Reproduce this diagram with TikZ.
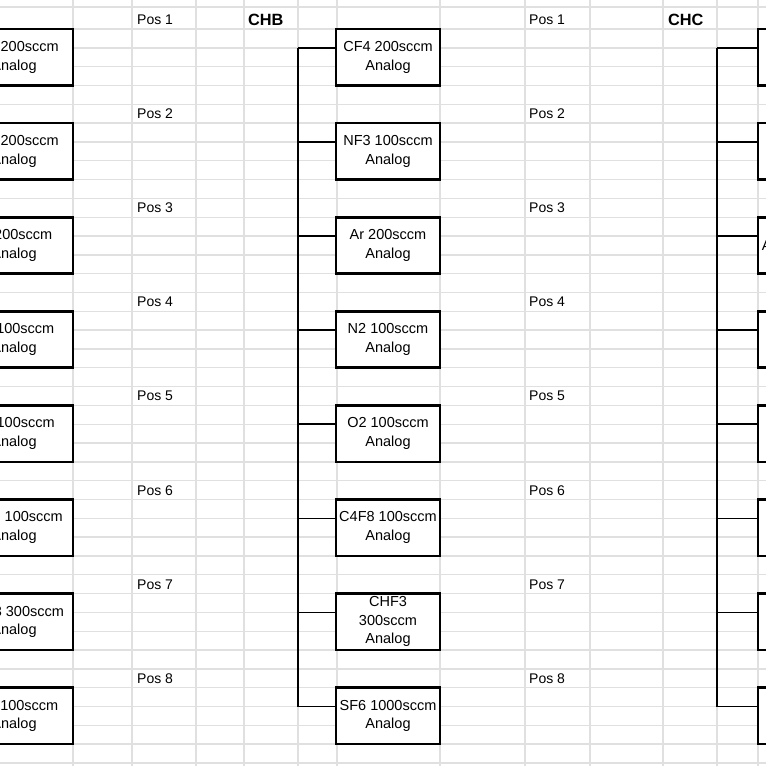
\documentclass[tikz,border=0pt]{standalone}
\usepackage{fontspec}
\setmainfont{Liberation Sans}
\begin{document}
\begin{tikzpicture}[x=1pt,y=-1pt,
  gridline/.style={draw=gray!24,line width=1.4pt},
  gasbox/.style={draw=black,line width=2.6pt,fill=white,minimum width=104pt,minimum height=56.46pt,
    inner sep=0pt,align=center,font=\fontsize{14.5}{18.6}\selectfont},
  widebox/.style={gasbox,minimum width=118pt},
  poslabel/.style={anchor=base west,inner sep=0pt,font=\fontsize{14}{16}\selectfont},
  chlabel/.style={anchor=base west,inner sep=0pt,font=\fontsize{16.3}{18}\selectfont\bfseries},
  conn/.style={draw=black,line width=1.5pt}]
\useasboundingbox (0,0) rectangle (766,766);
% grid
\draw[gridline] (0,7) -- (766,7);
\foreach \k in {0,...,39} \draw[gridline] (0,{29+18.82*\k}) -- (766,{29+18.82*\k});
\foreach \x in {73,132,196,244,298,337,440,525,590,663,717,758} \draw[gridline] (\x,0) -- (\x,766);
% headers
\node[chlabel] (chb) at (248,25) {CHB};
\node[chlabel] (chc) at (668,25) {CHC};
\foreach \k in {1,...,8}{
  \node[poslabel] (pl\k) at (137,{29+94.1*(\k-1)-4.5}) {Pos \k};
  \node[poslabel] (pr\k) at (529,{29+94.1*(\k-1)-4.5}) {Pos \k};
}
% CHA (cut off at left)
\foreach \k/\t in {1/CF4 200sccm,2/NF3 200sccm,3/Ar 200sccm,4/N2 100sccm,5/O2 100sccm,6/C4F8 100sccm,7/CHF3 300sccm,8/SF6 100sccm}{
  \node[widebox] (a\k) at (14,{29+94.1*(\k-1)+28.23}) {\t\\Analog};
}
% CHB
\foreach \k/\t in {1/CF4 200sccm\\Analog,2/NF3 100sccm\\Analog,3/Ar 200sccm\\Analog,4/N2 100sccm\\Analog,5/O2 100sccm\\Analog,6/C4F8 100sccm\\Analog,7/CHF3\\300sccm\\Analog,8/SF6 1000sccm\\Analog}{
  \node[gasbox] (b\k) at (388,{29+94.1*(\k-1)+28.23}) {\t};
  \coordinate (jb\k) at (298,{29+94.1*(\k-1)+18.82});
  \draw[conn] (jb\k) -- (jb\k -| b\k.west);
}
\draw[conn] (jb1) -- (jb8);
% CHC (cut off at right)
\foreach \k in {1,...,8}{
  \node[gasbox] (c\k) at (810,{29+94.1*(\k-1)+28.23}) {};
  \coordinate (jc\k) at (717,{29+94.1*(\k-1)+18.82});
  \draw[conn] (jc\k) -- (jc\k -| c\k.west);
}
\draw[conn] (jc1) -- (jc8);
\path (c3.west) ++(5,0) node[anchor=west,inner sep=0pt,font=\fontsize{14.5}{18.6}\selectfont] (c3text) {Ar 200sccm};
\end{tikzpicture}
\end{document}
